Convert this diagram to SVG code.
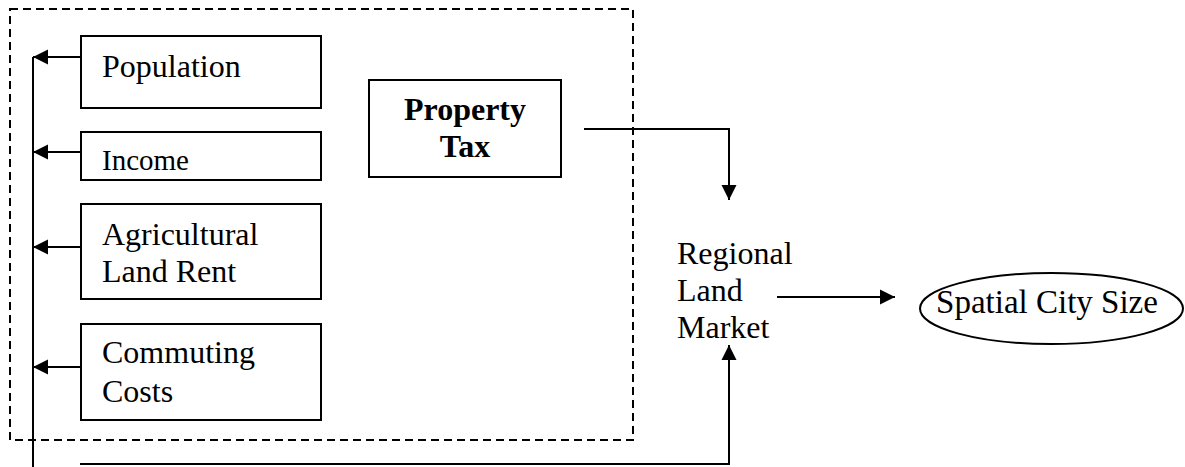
<svg xmlns="http://www.w3.org/2000/svg" width="1185" height="467" viewBox="0 0 1185 467">
<style>
.box{fill:#fff;stroke:#000;stroke-width:2}
.t{font-family:"Liberation Serif","Times New Roman",serif;font-size:32px;fill:#000}
.b{font-weight:bold}
.c{fill:none;stroke:#000;stroke-width:2}
.dash{fill:none;stroke:#000;stroke-width:2;stroke-dasharray:8 5}
</style>
<defs>
<marker id="ah" markerUnits="userSpaceOnUse" markerWidth="16" markerHeight="16" refX="15" refY="8" orient="auto" viewBox="0 0 16 16">
<path d="M0,0.5 L15,8 L0,15.5 Z" fill="#000"/>
</marker>
</defs>
<rect class="dash" x="10" y="9" width="623" height="431"/>
<g id="population"><rect class="box" x="81" y="36" width="240" height="72"/><text class="t" x="102" y="77">Population</text></g>
<g id="income"><rect class="box" x="81" y="132" width="240" height="48"/><text class="t" x="102" y="170" style="font-size:29px">Income</text></g>
<g id="agri"><rect class="box" x="81" y="204" width="240" height="95"/><text class="t" x="102" y="245">Agricultural</text><text class="t" x="102" y="282">Land Rent</text></g>
<g id="commuting"><rect class="box" x="81" y="324" width="240" height="96"/><text class="t" x="102" y="363">Commuting</text><text class="t" x="102" y="402">Costs</text></g>
<g id="propertytax"><rect class="box" x="369" y="80" width="192" height="97"/><text class="t b" x="465" y="120" text-anchor="middle">Property</text><text class="t b" x="465" y="157" text-anchor="middle">Tax</text></g>
<g id="regional"><text class="t" x="677" y="264">Regional</text><text class="t" x="677" y="301">Land</text><text class="t" x="677" y="338">Market</text></g>
<g id="spatial"><ellipse class="box" cx="1051.5" cy="308.5" rx="131.5" ry="35.5"/><text class="t" x="1047" y="313" text-anchor="middle" style="font-size:33px">Spatial City Size</text></g>
<g id="connectors">
<line class="c" x1="81" y1="57" x2="33" y2="57" marker-end="url(#ah)"/>
<line class="c" x1="81" y1="152" x2="33" y2="152" marker-end="url(#ah)"/>
<line class="c" x1="81" y1="247" x2="33" y2="247" marker-end="url(#ah)"/>
<line class="c" x1="81" y1="367" x2="33" y2="367" marker-end="url(#ah)"/>
<line class="c" x1="33" y1="57" x2="33" y2="467"/>
<polyline class="c" points="80,464 729,464 729,345" marker-end="url(#ah)"/>
<polyline class="c" points="584,129 729,129 729,200" marker-end="url(#ah)"/>
<line class="c" x1="777" y1="297" x2="895" y2="297" marker-end="url(#ah)"/>
</g>
</svg>
